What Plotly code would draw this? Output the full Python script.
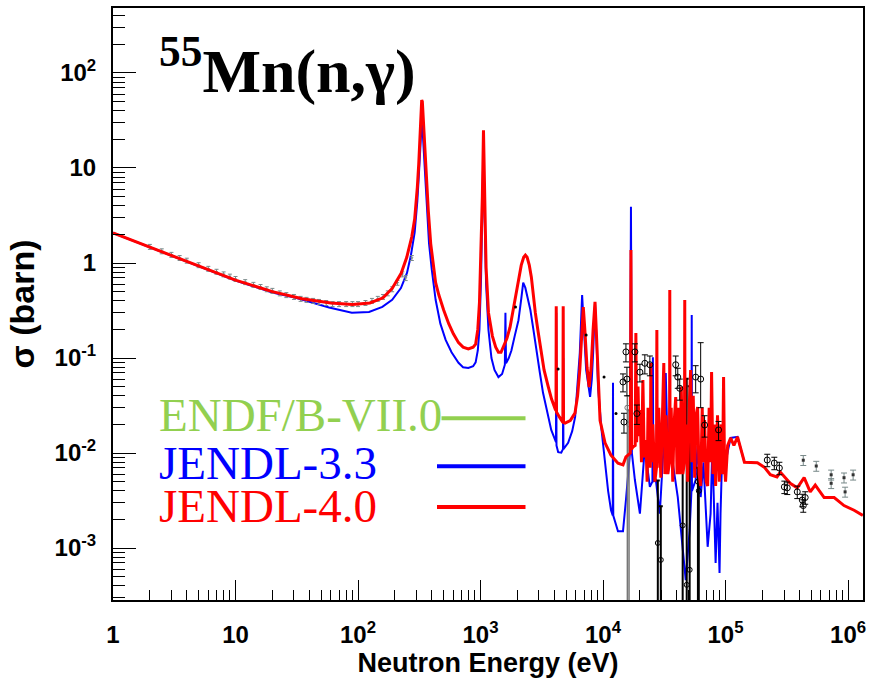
import plotly.graph_objects as go

# ---------------- data (energy in eV, cross section in barn) ----------------
red_E = [1, 2, 4, 10, 20, 35, 60, 90, 125, 160,
         190, 225, 250, 275, 290, 297, 305, 313, 318, 322,
         326, 331, 335, 340, 345, 350, 357, 365, 375, 392,
         410, 430, 457, 480, 500, 550, 600, 661, 720, 795,
         870, 912, 950, 980, 1010, 1035, 1057, 1080, 1110, 1161,
         1250, 1330, 1400, 1470, 1538, 1640, 1740, 1900, 2040, 2150,
         2250, 2323, 2400, 2500, 2600, 2700, 2800, 2950, 3133, 3300,
         3570, 3800, 4070, 4130, 4150, 4170, 4400, 4700, 4730, 4760,
         4900, 5400, 5900, 6200, 6460, 6700, 6900, 7100, 7400, 7700,
         8000, 8300, 8600, 8800, 9000, 9460, 10380, 11600, 13240, 14550,
         15380, 16200, 16700, 16900, 17100, 17540, 18300, 18540, 18800, 19300,
         19700, 20000, 20600, 21150, 21700, 22380, 22900, 23300, 24300, 24570,
         24850, 25500, 26490, 27300, 27500, 27700, 28500, 29620, 30500, 31330,
         32000, 32700, 33740, 34900, 35060, 35250, 36000, 37070, 38000, 39190,
         40200, 41200, 42270, 43500, 44800, 46200, 46450, 46700, 48000, 49090,
         50500, 51890, 53000, 54500, 55980, 57500, 59160, 60800, 62660, 64500,
         66000, 67450, 69500, 71450, 73500, 75500, 76910, 79000, 81000, 82990,
         86000, 89000, 92000, 94500, 96380, 98000, 100000, 104000, 109900, 117000,
         125300, 142600, 182000, 207000, 232000, 263000, 280000, 337000, 385000, 438000,
         491000, 540000, 638000, 770000, 927000, 1.12e6, 1.32e6]
red_sig = [2.07, 1.47, 1.04, 0.66, 0.50, 0.42, 0.38, 0.365, 0.38, 0.43,
           0.54, 0.78, 1.15, 1.9, 2.9, 3.9, 6.3, 11, 17, 26,
           40, 52, 50, 35, 22, 16, 11, 6.0, 3.5, 1.6,
           0.95, 0.62, 0.46, 0.37, 0.32, 0.23, 0.18, 0.145, 0.13, 0.125,
           0.13, 0.14, 0.2, 0.38, 1.2, 5, 25, 4, 0.9, 0.30,
           0.17, 0.13, 0.115, 0.115, 0.13, 0.16, 0.21, 0.38, 0.66, 0.95,
           1.15, 1.21, 1.15, 0.95, 0.71, 0.45, 0.30, 0.19, 0.11, 0.075,
           0.05, 0.037, 0.029, 0.028, 0.35, 0.027, 0.024, 0.021, 0.35, 0.021,
           0.0207, 0.022, 0.0263, 0.04, 0.075, 0.2, 0.344, 0.2, 0.08, 0.0495,
           0.08, 0.2, 0.39, 0.2, 0.09, 0.022, 0.0128, 0.0095, 0.0078, 0.0075,
           0.0091, 0.0098, 0.010, 1.37, 0.011, 0.0116, 0.012, 0.183, 0.013, 0.05,
           0.015, 0.0284, 0.008, 0.0586, 0.009, 0.0137, 0.005, 0.03, 0.007, 0.0886,
           0.008, 0.02, 0.005, 0.007, 0.197, 0.007, 0.03, 0.0055, 0.02, 0.0886,
           0.006, 0.025, 0.006, 0.008, 0.52, 0.008, 0.03, 0.005, 0.02, 0.0389,
           0.006, 0.03, 0.006, 0.05, 0.006, 0.008, 0.408, 0.008, 0.02, 0.005,
           0.03, 0.0748, 0.008, 0.04, 0.0055, 0.025, 0.0305, 0.006, 0.0045, 0.03,
           0.008, 0.0222, 0.005, 0.0045, 0.03, 0.008, 0.0713, 0.006, 0.02, 0.0045,
           0.025, 0.005, 0.02, 0.006, 0.063, 0.008, 0.005, 0.012, 0.0144, 0.012,
           0.0148, 0.0080, 0.0079, 0.0071, 0.0059, 0.0056, 0.0063, 0.0048, 0.0043, 0.0055,
           0.0039, 0.0046, 0.0034, 0.0034, 0.0028, 0.0025, 0.0022]

blue_E = [1, 2, 4, 10, 20, 31, 58, 89, 123, 158,
          190, 224, 251, 270, 290, 297, 305, 313, 318, 322,
          326, 331, 335, 340, 345, 350, 357, 365, 380, 400,
          430, 470, 519, 580, 661, 720, 795, 870, 912, 950,
          980, 1010, 1035, 1057, 1080, 1110, 1161, 1228, 1300, 1400,
          1500, 1580, 1597, 1615, 1700, 1787, 1900, 2040, 2150, 2230,
          2320, 2450, 2553, 2700, 2851, 3050, 3237, 3500, 3777, 4130,
          4150, 4170, 4305, 4560, 4710, 4730, 4750, 5190, 5600, 5920,
          6200, 6460, 6750, 7000, 7280, 7840, 8100, 8300, 8600, 8850,
          9100, 9700, 10380, 11000, 11620, 12000, 12060, 12120, 13240, 14550,
          15380, 16590, 16900, 17200, 18200, 20000, 21940, 24110, 25300, 25520,
          25750, 26990, 29050, 31000, 32510, 34000, 35060, 37000, 40740, 44670,
          47310, 50930, 52700, 52960, 53200, 57020, 59000, 62660, 66000, 71450,
          75510, 78000, 82990, 86000, 89330, 91000, 94620, 100000, 109900, 125300,
          142600]
blue_sig = [2.07, 1.47, 1.04, 0.655, 0.49, 0.43, 0.34, 0.30, 0.305, 0.345,
            0.41, 0.545, 0.785, 1.2, 2.1, 2.8, 4.5, 8, 12, 17,
            24, 30, 28, 20, 14, 10, 6.5, 3.6, 1.6, 0.85,
            0.41, 0.23, 0.155, 0.115, 0.089, 0.08, 0.0785, 0.082, 0.09, 0.12,
            0.2, 0.7, 3.5, 18, 3, 0.6, 0.197, 0.10, 0.075, 0.063,
            0.068, 0.085, 0.30, 0.088, 0.1, 0.12, 0.17, 0.25, 0.42, 0.62,
            0.55, 0.42, 0.32, 0.2, 0.12, 0.07, 0.043, 0.027, 0.0175, 0.013,
            0.30, 0.012, 0.0102, 0.0101, 0.011, 0.1, 0.011, 0.0128, 0.017, 0.024,
            0.05, 0.113, 0.46, 0.2, 0.075, 0.039, 0.06, 0.113, 0.38, 0.15,
            0.05, 0.018, 0.008, 0.004, 0.0025, 0.0022, 0.055, 0.0022, 0.0015, 0.0015,
            0.0032, 0.01, 3.9, 0.01, 0.0052, 0.0023, 0.0116, 0.0044, 0.005, 0.102,
            0.005, 0.0052, 0.0023, 0.01, 0.0695, 0.006, 0.03, 0.008, 0.00344, 0.00103,
            0.00046, 0.00155, 0.004, 0.284, 0.004, 0.0052, 0.012, 0.00344, 0.008, 0.00103,
            0.0023, 0.012, 0.000695, 0.003, 0.000546, 0.0023, 0.0137, 0.008, 0.0144, 0.0148,
            0.0080]

# experimental data
gray_E = [2, 2.5, 3, 3.5, 4, 5, 6, 7, 8, 9, 10, 12, 14, 16, 18, 20, 23, 26, 30, 34,
          38, 43, 48, 55, 62, 70, 80, 90, 100, 115, 130, 145, 160, 175, 190, 210, 230, 245, 275]
gray_sig = [1.48, 1.33, 1.22, 1.13, 1.06, 0.95, 0.87, 0.81, 0.76, 0.72, 0.68, 0.63, 0.59, 0.56,
            0.53, 0.51, 0.48, 0.46, 0.44, 0.42, 0.41, 0.40, 0.39, 0.38, 0.37, 0.37, 0.37, 0.37,
            0.37, 0.38, 0.40, 0.42, 0.44, 0.48, 0.53, 0.62, 0.76, 0.695, 1.13]
gray_err = 0.06

res_E = [14550, 14820, 15380, 15670, 18200, 18900, 20000, 21940, 24110,
         39190, 40740, 42270, 57020, 62660, 67450, 87700]
res_sig = [0.056, 0.0212, 0.116, 0.060, 0.116, 0.026, 0.071, 0.088, 0.085,
           0.085, 0.063, 0.048, 0.063, 0.06, 0.0197, 0.0175]
res_err_up = [0.012, 0.005, 0.025, 0.02, 0.025, 0.006, 0.015, 0.02, 0.02,
              0.02, 0.015, 0.012, 0.02, 0.085, 0.005, 0.004]
res_err_dn = [0.012, 0.005, 0.025, 0.02, 0.025, 0.006, 0.015, 0.02, 0.02,
              0.02, 0.015, 0.012, 0.02, 0.03, 0.005, 0.004]

deep_E = [15800, 16300, 28000, 29620, 44670, 48200, 50930, 59500, 60500]
deep_sig = [0.03, 0.02, 0.00113, 0.00075, 0.00173, 0.00041, 0.00059, 0.005, 0.004]
deep_err_up = [0.01, 0.008, 0.004, 0.002, 0.01, 0.06, 0.05, 0.002, 0.002]

hi_E = [219000, 250000, 275000, 302000, 319000, 385000, 423000, 447000, 431000]
hi_sig = [0.00844, 0.00785, 0.00695, 0.0044, 0.0043, 0.0039, 0.0032, 0.0034, 0.0028]
sq_E = [431000, 550000, 728000, 728000, 927000, 1.1e6, 946000]
sq_sig = [0.0084, 0.0073, 0.0059, 0.0048, 0.0055, 0.0059, 0.0039]

dot_E = [1930, 4300, 7280, 10190, 12760]
dot_sig = [0.345, 0.0766, 0.175, 0.063, 0.026]

x_tick_vals = [1, 10, 100, 1e3, 1e4, 1e5, 1e6]
x_tick_text = ["1", "10", "10<sup>2</sup>", "10<sup>3</sup>", "10<sup>4</sup>",
               "10<sup>5</sup>", "10<sup>6</sup>"]
y_tick_vals = [1e-3, 1e-2, 1e-1, 1, 10, 100]
y_tick_text = ["10<sup>-3</sup>", "10<sup>-2</sup>", "10<sup>-1</sup>", "1", "10",
               "10<sup>2</sup>"]

legend_names = ["ENDF/B-VII.0", "JENDL-3.3", "JENDL-4.0"]
legend_colors = ["#92d050", "#0000ff", "#ff0000"]

# ---------------- figure ----------------
fig = go.Figure()

fig.add_trace(go.Scatter(x=blue_E, y=blue_sig, mode="lines",
                         line=dict(color="#0000ff", width=2), showlegend=False))

fig.add_trace(go.Scatter(
    x=gray_E, y=gray_sig, mode="markers",
    marker=dict(symbol="triangle-down", size=3, color="#7a8a8a"),
    error_y=dict(type="percent", value=gray_err * 100, color="#7a8a8a", thickness=1, width=2),
    showlegend=False))

fig.add_trace(go.Scatter(
    x=deep_E[:2], y=deep_sig[:2], mode="markers",
    marker=dict(symbol="circle-open", size=5, color="#777777"),
    error_y=dict(type="data", array=deep_err_up[:2],
                 arrayminus=[v * 0.9999 for v in deep_sig[:2]],
                 color="#777777", thickness=1.5, width=2),
    showlegend=False))
fig.add_trace(go.Scatter(
    x=deep_E[2:], y=deep_sig[2:], mode="markers",
    marker=dict(symbol="circle-open", size=5, color="black"),
    error_y=dict(type="data", array=deep_err_up[2:],
                 arrayminus=[v * 0.9999 for v in deep_sig[2:]],
                 color="black", thickness=2, width=2),
    showlegend=False))

fig.add_trace(go.Scatter(x=red_E, y=red_sig, mode="lines",
                         line=dict(color="#ff0000", width=3), showlegend=False))

fig.add_trace(go.Scatter(
    x=res_E, y=res_sig, mode="markers",
    marker=dict(symbol="circle-open", size=6, color="black"),
    error_y=dict(type="data", array=res_err_up, arrayminus=res_err_dn,
                 color="black", thickness=1, width=3),
    showlegend=False))
fig.add_trace(go.Scatter(
    x=hi_E, y=hi_sig, mode="markers",
    marker=dict(symbol="circle-open", size=6, color="black"),
    error_y=dict(type="percent", value=15, color="black", thickness=1, width=3),
    showlegend=False))
fig.add_trace(go.Scatter(
    x=sq_E, y=sq_sig, mode="markers",
    marker=dict(symbol="square", size=3, color="#333333"),
    error_y=dict(type="percent", value=12, color="#778888", thickness=1, width=3),
    showlegend=False))
fig.add_trace(go.Scatter(
    x=dot_E, y=dot_sig, mode="markers",
    marker=dict(symbol="circle", size=3, color="black"), showlegend=False))

# legend drawn ROOT-style: text on the left, line on the right
leg_y = [0.307, 0.226, 0.157]
leg_text_y = [0.313, 0.232, 0.158]
for name, col, ty in zip(legend_names, legend_colors, leg_text_y):
    fig.add_annotation(x=0.058, y=ty, xref="paper", yref="paper", text=name,
                       showarrow=False, xanchor="left", yanchor="middle",
                       font=dict(family="Liberation Serif", size=47, color=col))
for col, ly, x0 in zip(legend_colors, leg_y, [0.438, 0.432, 0.432]):
    fig.add_shape(type="line", xref="paper", yref="paper", x0=x0, x1=0.55, y0=ly, y1=ly,
                  line=dict(color=col, width=4))

fig.add_annotation(x=0.058, y=0.902, xref="paper", yref="paper",
                   text="<b><sup>55</sup>Mn(n,γ)</b>", showarrow=False,
                   xanchor="left", yanchor="middle",
                   font=dict(family="Liberation Serif", size=62, color="black"))

minor_x = [k * 10 ** d for d in range(0, 7) for k in range(2, 10) if k * 10 ** d < 1.32e6]
minor_y = [k * 10.0 ** d for d in range(-4, 3) for k in range(2, 10)
           if 2.84e-4 < k * 10.0 ** d < 480]

axis_font = dict(family="Liberation Sans", size=24, color="black", weight="bold")
fig.update_xaxes(type="log", range=[0, 6.122], showgrid=False, zeroline=False,
                 showline=True, mirror=True, linecolor="black", linewidth=2,
                 ticks="inside", ticklen=20, tickwidth=1, tickcolor="black",
                 tickmode="array", tickvals=x_tick_vals, ticktext=x_tick_text,
                 tickfont=axis_font, ticklabelstandoff=12,
                 minor=dict(tickmode="array", tickvals=minor_x, ticks="inside",
                            ticklen=10, tickwidth=1, tickcolor="black", showgrid=False),
                 title=dict(text="Neutron Energy (eV)", standoff=6,
                            font=dict(family="Liberation Sans", size=27, color="black",
                                      weight="bold")))
fig.update_yaxes(type="log", range=[-3.547, 2.684], showgrid=False, zeroline=False,
                 showline=True, mirror=True, linecolor="black", linewidth=2,
                 ticks="inside", ticklen=23, tickwidth=1, tickcolor="black",
                 tickmode="array", tickvals=y_tick_vals, ticktext=y_tick_text,
                 tickfont=axis_font, ticklabelstandoff=10,
                 minor=dict(tickmode="array", tickvals=minor_y, ticks="inside",
                            ticklen=12, tickwidth=1, tickcolor="black", showgrid=False),
                 title=dict(text="σ (barn)", standoff=10,
                            font=dict(family="Liberation Sans", size=34, color="black",
                                      weight="bold")))

fig.update_layout(width=870, height=680, margin=dict(l=113, r=4, t=8, b=80),
                  plot_bgcolor="white", paper_bgcolor="white", showlegend=False)

fig.write_html("out.html")
